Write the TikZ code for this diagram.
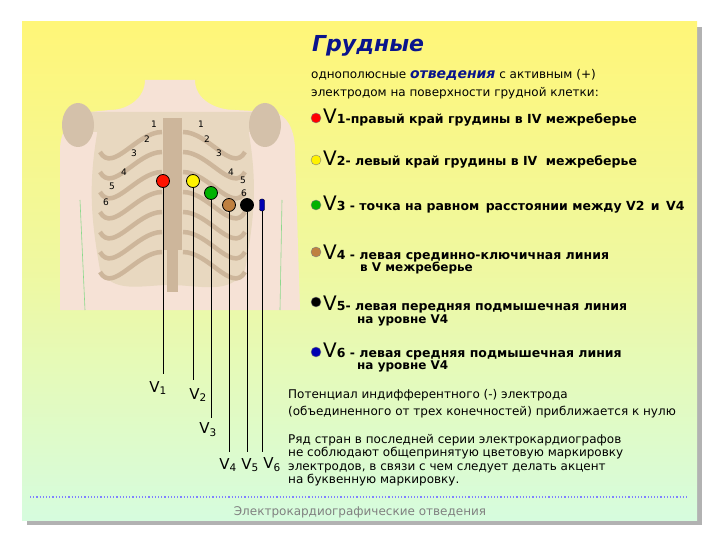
\documentclass[tikz,border=0pt]{standalone}
\usepackage{fontspec}
\setmainfont{DejaVu Sans}
\usetikzlibrary{shapes.geometric}
\definecolor{yel}{RGB}{255,246,120}
\definecolor{mint}{RGB}{214,252,222}
\definecolor{skin}{RGB}{246,226,214}
\definecolor{bone}{RGB}{232,216,192}
\definecolor{bonedk}{RGB}{205,182,155}
\definecolor{navy}{RGB}{10,20,140}
\tikzset{
 elec/.style={circle,draw=black,line width=0.8pt,minimum size=13pt,inner sep=0pt},
 wire/.style={line width=1pt},
 lbl/.style={anchor=west,inner sep=0pt,font=\fontsize{12.5}{13}\selectfont\bfseries},
 sub/.style={anchor=west,inner sep=0pt,font=\fontsize{12}{12}\selectfont\bfseries},
 plain/.style={anchor=west,inner sep=0pt,font=\fontsize{12}{13}\selectfont},
 rib/.style={font=\fontsize{9}{9}\selectfont,inner sep=0pt},
 vl/.style={font=\fontsize{15}{15}\selectfont\rmfamily,inner sep=0pt},
 bull/.style={circle,draw=gray,minimum size=10pt,inner sep=0pt}
}
\begin{document}
\begin{tikzpicture}[x=1pt,y=-1pt]
\useasboundingbox (0,0) rectangle (720,540);
\fill[white] (0,0) rectangle (720,540);
\fill[gray!60] (27,27) rectangle (702,525);
\shade[top color=yel,bottom color=mint,middle color=yel!60!mint] (22,22) rectangle (697,520);
% body
\fill[skin] (145,80) -- (195,80) to[out=-90,in=180] (235,110) -- (270,112) to[out=0,in=90] (295,150) -- (300,310) -- (60,310) -- (60,150) to[out=90,in=180] (90,112) -- (110,110) to[out=0,in=-90] (145,80);
\draw[green!50!gray!60,line width=0.6pt] (80,200) -- (85,310) (282,200) -- (280,310);
\fill[bone] (80,112) -- (262,112) -- (258,132) -- (84,132) -- cycle;
\fill[bone] (98,128) to[out=-100,in=100] (100,270) to[out=-60,in=180] (170,285) to[out=0,in=-120] (245,270) to[out=80,in=-80] (248,128) -- cycle;
\foreach \y in {140,160,180,200,220,240,260}
 {\draw[bonedk,line width=4.5pt] (100,\y+12) to[out=-60,in=180] (162,\y-8);
  \draw[bonedk,line width=4.5pt] (245,\y+12) to[out=-120,in=0] (183,\y-8);}
\fill[bonedk] (163,118) rectangle (182,250);
\fill[bonedk] (167,250) rectangle (178,292);
\fill[bonedk!85] (78,125) ellipse[x radius=16,y radius=22];
\fill[bonedk!85] (265,125) ellipse[x radius=16,y radius=22];
% rib numbers
\foreach \n/\x/\y in {1/154/124,2/147/139,3/134/153,4/124/172,5/112/186,6/106/202,1/201/124,2/207/139,3/219/153,4/231/172,5/243/180,6/244/193}
 \node[rib] at (\x,\y) {\n};
% electrodes
\node[elec,fill=red!85!orange] (e1) at (163,181) {};
\node[elec,fill=yellow] (e2) at (193,181) {};
\node[elec,fill=green!70!black] (e3) at (211,193) {};
\node[elec,fill=brown] (e4) at (229,205) {};
\node[elec,fill=black] (e5) at (247,205) {};
\node[draw=black,fill=blue!70!black,minimum width=5pt,minimum height=12pt,inner sep=0pt,rounded corners=2pt] (e6) at (262,205) {};
\coordinate (w1) at (163,374); \coordinate (w2) at (193,380);
\coordinate (w3) at (211,418); \coordinate (w4) at (229,452);
\coordinate (w5) at (247,452); \coordinate (w6) at (262,452);
\foreach \i in {1,...,6} \draw[wire] (e\i) -- (w\i);
\node[vl] (v1) at (158,388) {V\textsubscript{1}};
\node[vl] (v2) at (198,395) {V\textsubscript{2}};
\node[vl] (v3) at (208,430) {V\textsubscript{3}};
\node[vl] (v4) at (228,465) {V\textsubscript{4}};
\node[vl] (v5) at (250,465) {V\textsubscript{5}};
\node[vl] (v6) at (272,465) {V\textsubscript{6}};
% text
\node[anchor=west,inner sep=0pt,text=navy,font=\fontsize{22}{22}\selectfont\bfseries\itshape] (t) at (312,46) {Грудные};
\node[plain] (p1) at (311,75) {однополюсные {\color{navy}\bfseries\itshape\fontsize{14}{14}\selectfont отведения} с активным (+)};
\node[plain] (p2) at (311,93) {электродом на поверхности грудной клетки:};
\foreach \n/\y/\c in {1/118/red,2/160/yellow,3/205/green!70!black,4/252/brown,5/302/black,6/352/blue!70!black}
 \node[bull,fill=\c] (b\n) at (316,\y) {};
\node[lbl] at (323,118) {{\fontsize{20}{20}\selectfont\mdseries V}1-правый край грудины в IV межреберье};
\node[lbl] at (323,160) {{\fontsize{20}{20}\selectfont\mdseries V}2- левый край грудины в IV\,\, межреберье};
\node[lbl] at (323,205) {{\fontsize{20}{20}\selectfont\mdseries V}3 - точка на равном\, расстоянии между V2\, и\, V4};
\node[lbl] at (323,254) {{\fontsize{20}{20}\selectfont\mdseries V}4 - левая срединно-ключичная линия};
\node[sub] at (360,268) {в V межреберье};
\node[lbl] at (323,305) {{\fontsize{20}{20}\selectfont\mdseries V}5- левая передняя подмышечная линия};
\node[sub] at (357,320) {на уровне V4};
\node[lbl] at (323,352) {{\fontsize{20}{20}\selectfont\mdseries V}6 - левая средняя подмышечная линия};
\node[sub] at (357,366) {на уровне V4};
\node[plain] at (288,395) {Потенциал индифферентного (-) электрода};
\node[plain] at (288,412) {(объединенного от трех конечностей) приближается к нулю};
\node[plain,align=left,font=\fontsize{12}{13.5}\selectfont,anchor=north west] at (288,434) {Ряд стран в последней серии электрокардиографов\\не соблюдают общепринятую цветовую маркировку\\электродов, в связи с чем следует делать акцент\\на буквенную маркировку.};
\draw[blue!50,dotted,line width=1.2pt] (30,497) -- (688,497);
\node[inner sep=0pt,text=gray,font=\fontsize{12}{12}\selectfont] at (360,512) {Электрокардиографические отведения};
\end{tikzpicture}
\end{document}
